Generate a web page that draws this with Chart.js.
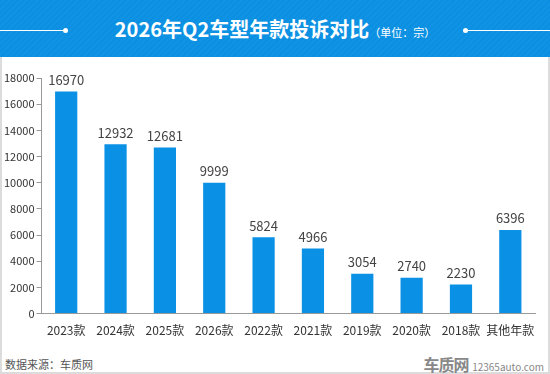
<!DOCTYPE html>
<html>
<head>
<meta charset="utf-8">
<script src="https://cdn.jsdelivr.net/npm/chart.js@4"></script>
<style>
  body { margin: 0; background: #fff; font-family: "Noto Sans CJK SC", "Noto Sans", sans-serif; }
  #wrap { position: relative; width: 550px; height: 374px; overflow: hidden; }
  #frame { position: absolute; left: 0; top: 0; width: 546px; height: 370px; border: 2px solid #dcdcdc; box-sizing: content-box; }
  #head {
    position: absolute; left: 0; top: 0; width: 550px; height: 57px;
    background: repeating-linear-gradient(135deg, #0b8fe2 0px, #0b8fe2 2px, #1193e4 2px, #1193e4 4px);
  }
  #title { position: absolute; left: 0; top: 14px; width: 550px; text-align: center; color: #fff; white-space: nowrap; }
  #title b { font-size: 20px; font-weight: 700; }
  #title span { font-size: 11px; }
  .ln { position: absolute; top: 30px; height: 1px; background: #fff; }
  .dot { position: absolute; top: 28px; width: 5px; height: 5px; border-radius: 50%; background: #fff; }
  #chartBox { position: absolute; left: 0; top: 57px; width: 550px; height: 283px; }
  #src { position: absolute; left: 5px; top: 356px; font-size: 11px; color: #555; }
  #logo { position: absolute; right: 6px; top: 352px; color: #888; white-space: nowrap; }
  #logo b { font-size: 16px; font-weight: 700; letter-spacing: -1px; }
  #logo span { font-size: 10px; }
</style>
</head>
<body>
<div id="wrap">
  <div id="frame"></div>
  <div id="head">
    <div class="ln" style="left:0;width:65px"></div>
    <div class="dot" style="left:63px"></div>
    <div class="ln" style="left:466px;width:84px"></div>
    <div class="dot" style="left:463px"></div>
    <div id="title"><b>2026年Q2车型年款投诉对比</b><span>（单位：宗）</span></div>
  </div>
  <div id="chartBox"><canvas id="chart"></canvas></div>
  <div id="src">数据来源：车质网</div>
  <div id="logo"><b>车质网</b> <span>12365auto.com</span></div>
</div>
<script>
let categories = ["2023款", "2024款", "2025款", "2026款", "2022款", "2021款", "2019款", "2020款", "2018款", "其他年款"];
let complaints = [16970, 12932, 12681, 9999, 5824, 4966, 3054, 2740, 2230, 6396];
let yTicks = [0, 2000, 4000, 6000, 8000, 10000, 12000, 14000, 16000, 18000];

let valueLabels = {
    id: "valueLabels",
    afterDatasetsDraw(chart) {
        let ctx = chart.ctx;
        let meta = chart.getDatasetMeta(0);
        ctx.save();
        ctx.font = '13px "Noto Sans CJK SC", "Noto Sans", sans-serif';
        ctx.fillStyle = "#444";
        ctx.textAlign = "center";
        ctx.textBaseline = "bottom";
        meta.data.forEach((bar, i) => {
            ctx.fillText(String(complaints[i]), bar.x, bar.y - 5);
        });
        ctx.restore();
    }
};

let ctx = document.getElementById("chart").getContext("2d");
let chartInstance = new Chart(ctx, {
    type: "bar",
    data: {
        labels: categories,
        datasets: [{ data: complaints, backgroundColor: "#0a90e4", barPercentage: 0.9, categoryPercentage: 0.5 }]
    },
    options: {
        responsive: true,
        maintainAspectRatio: false,
        animation: false,
        layout: { padding: { left: 2, right: 15, top: 21, bottom: 0 } },
        plugins: { legend: { display: false }, tooltip: { enabled: false } },
        scales: {
            x: {
                grid: { display: false },
                border: { color: "#999" },
                ticks: { color: "#333", maxRotation: 0, autoSkip: false, font: { size: 12, family: '"Noto Sans CJK SC", sans-serif' }, padding: 2 }
            },
            y: {
                min: 0,
                max: 18000,
                afterBuildTicks: axis => { axis.ticks = yTicks.map(v => ({ value: v })); },
                grid: { drawOnChartArea: false, drawTicks: true, tickLength: 5, color: "#999" },
                border: { color: "#999" },
                ticks: { color: "#333", callback: v => String(v), font: { size: 11, family: '"Noto Sans CJK SC", sans-serif' }, padding: 2 }
            }
        }
    },
    plugins: [valueLabels]
});
</script>
</body>
</html>
